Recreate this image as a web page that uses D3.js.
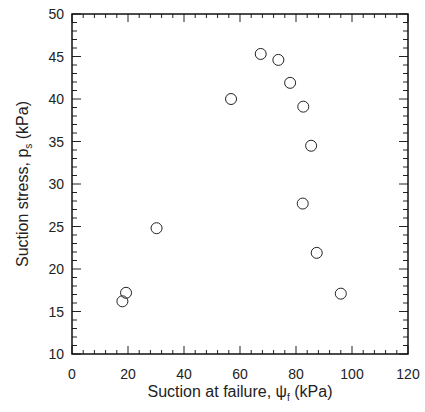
<!DOCTYPE html>
<html><head><meta charset="utf-8">
<script src="https://cdn.jsdelivr.net/npm/d3@7"></script>
<style>body{margin:0;background:#fff}</style>
</head><body>
<script>
const suction = [18.0, 19.3, 30.2, 56.8, 67.4, 73.7, 77.9, 82.6, 85.4, 82.4, 87.4, 96.0];
const stress  = [16.2, 17.2, 24.8, 40.0, 45.3, 44.6, 41.9, 39.1, 34.5, 27.7, 21.9, 17.1];
const xTicks = [0, 20, 40, 60, 80, 100, 120];
const yTicks = [10, 15, 20, 25, 30, 35, 40, 45, 50];

const W = 425, H = 412;
const m = {left: 72, right: 17, top: 14, bottom: 58};
const svg = d3.select("body").append("svg").attr("width", W).attr("height", H);
const x = d3.scaleLinear().domain([0, 120]).range([m.left, W - m.right]);
const y = d3.scaleLinear().domain([10, 50]).range([H - m.bottom, m.top]);
const font = "Liberation Sans, Arial, sans-serif";
const tc = "#222";

// minor ticks
const xMinor = d3.range(0, 121, 4).filter(v => v % 20 !== 0);
const yMinor = d3.range(10, 51, 1).filter(v => v % 5 !== 0);
const g = svg.append("g").attr("stroke", tc).attr("stroke-width", 1);
function tick(x1, y1, x2, y2) { g.append("line").attr("x1", x1).attr("y1", y1).attr("x2", x2).attr("y2", y2); }
const x0 = x(0), x1 = x(120), y0 = y(10), y1 = y(50);
xTicks.forEach(v => { tick(x(v), y0, x(v), y0 - 8); tick(x(v), y1, x(v), y1 + 8); });
xMinor.forEach(v => { tick(x(v), y0, x(v), y0 - 4); tick(x(v), y1, x(v), y1 + 4); });
yTicks.forEach(v => { tick(x0, y(v), x0 + 9, y(v)); tick(x1, y(v), x1 - 9, y(v)); });
yMinor.forEach(v => { tick(x0, y(v), x0 + 5, y(v)); tick(x1, y(v), x1 - 5, y(v)); });

svg.append("rect").attr("x", x0).attr("y", y1).attr("width", x1 - x0).attr("height", y0 - y1)
  .attr("fill", "none").attr("stroke", "#111").attr("stroke-width", 1.5);

// tick labels
svg.selectAll(".xl").data(xTicks).enter().append("text")
  .attr("x", d => x(d)).attr("y", y0 + 25).attr("text-anchor", "middle")
  .attr("font-family", font).attr("font-size", 14).attr("fill", tc).text(d => d);
svg.selectAll(".yl").data(yTicks).enter().append("text")
  .attr("x", x0 - 8).attr("y", d => y(d) + 5).attr("text-anchor", "end")
  .attr("font-family", font).attr("font-size", 14).attr("fill", tc).text(d => d);

// points
svg.selectAll(".pt").data(suction.map((s, i) => [s, stress[i]])).enter().append("circle")
  .attr("cx", d => x(d[0])).attr("cy", d => y(d[1])).attr("r", 5.5)
  .attr("fill", "none").attr("stroke", "#222").attr("stroke-width", 1);

// axis titles
const xt = svg.append("text").attr("x", (x0 + x1) / 2).attr("y", y0 + 43).attr("text-anchor", "middle")
  .attr("font-family", font).attr("font-size", 16).attr("fill", tc);
xt.append("tspan").text("Suction at failure, ψ");
xt.append("tspan").attr("font-size", 10).attr("dy", 4).text("f");
xt.append("tspan").attr("dy", -4).text(" (kPa)");

const yt = svg.append("text").attr("transform", `translate(28,${(y0 + y1) / 2}) rotate(-90)`)
  .attr("text-anchor", "middle").attr("font-family", font).attr("font-size", 16).attr("fill", tc);
yt.append("tspan").text("Suction stress, p");
yt.append("tspan").attr("font-size", 10).attr("dy", 4).text("s");
yt.append("tspan").attr("dy", -4).text(" (kPa)");
</script>
</body></html>
